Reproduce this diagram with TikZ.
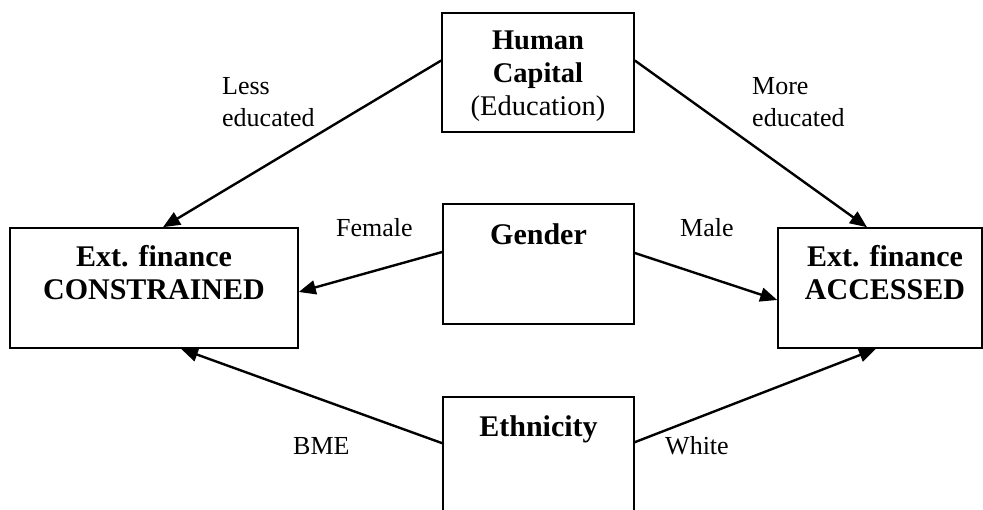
\documentclass[tikz,border=0pt]{standalone}
\usepackage{fontspec}
\setmainfont{Liberation Serif}
\usetikzlibrary{arrows.meta,positioning}

\begin{document}
\begin{tikzpicture}[x=1pt,y=1pt,
  box/.style={draw,line width=1.6pt,inner sep=0pt},
  boxtext/.style={font=\fontsize{30}{33}\selectfont\bfseries,align=center,inner sep=0pt},
  arr/.style={-{Triangle[length=17pt,width=14pt]},line width=2.4pt},
  lbl/.style={font=\fontsize{26}{32}\selectfont,align=left,inner sep=0pt}]
\clip (0,0) rectangle (983,510);

% Draw boxes
\node[box,minimum width=192pt,minimum height=119pt] (hc) at (538,437.5) {};
\node[box,minimum width=191pt,minimum height=120pt] (gen) at (538.5,246) {};
\node[box,minimum width=191pt,minimum height=140pt] (eth) at (538.5,43) {};
\node[box,minimum width=288pt,minimum height=120pt] (cons) at (154,222) {};
\node[box,minimum width=204pt,minimum height=120pt] (acc) at (880,222) {};

% Box texts
\node[boxtext,font=\fontsize{28.5}{33}\selectfont\bfseries,below=18pt of hc.north] (hctext) {Human\\Capital\\{\mdseries (Education)}};
\node[boxtext,below=20pt of gen.north] (gentext) {Gender};
\node[boxtext,below=19pt of eth.north] (ethtext) {Ethnicity};
\node[boxtext,below=18pt of cons.north] (constext) {Ext. finance\\CONSTRAINED};
\node[boxtext,below=18pt of acc.north,xshift=5pt] (acctext) {Ext. finance\\ACCESSED};

% Draw connections
\draw[arr] ([yshift=12pt]hc.west) -- ([xshift=9pt]cons.north);
\draw[arr] ([yshift=12pt]hc.east) -- ([xshift=-13pt]acc.north);
\draw[arr] ([yshift=12pt]gen.west) -- ([yshift=-4pt]cons.east);
\draw[arr] ([yshift=11pt]gen.east) -- ([yshift=-12pt]acc.west);
\draw[arr] ([yshift=-47pt]eth.north west) -- ([xshift=27pt]cons.south);
\draw[arr] ([yshift=-46pt]eth.north east) -- ([xshift=-4pt]acc.south);

% Add labels
\node[lbl,anchor=north west] (less) at (222,433) {Less\\educated};
\node[lbl,anchor=north west] (more) at (752,433) {More\\educated};
\node[lbl,anchor=base west] (female) at (336,273) {Female};
\node[lbl,anchor=base west] (male) at (680,273) {Male};
\node[lbl,anchor=base west] (bme) at (293,55) {BME};
\node[lbl,anchor=base west] (white) at (665,55) {White};
\end{tikzpicture}
\end{document}
